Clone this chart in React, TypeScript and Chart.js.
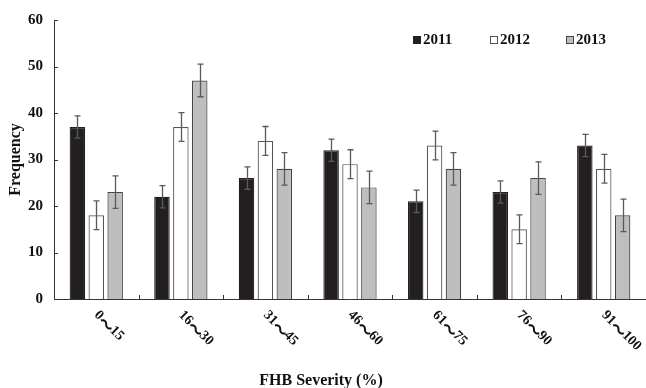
import React, { useEffect, useRef } from "react";
import { Chart, registerables } from "chart.js";

Chart.register(...registerables);

const categories = ["0～15", "16～30", "31～45", "46～60", "61～75", "76～90", "91～100"];
const seriesNames = ["2011", "2012", "2013"];
const values2011 = [37, 22, 26, 32, 21, 23, 33];
const values2012 = [18, 37, 34, 29, 33, 15, 28];
const values2013 = [23, 47, 28, 24, 28, 26, 18];
const errors2011 = [2.4, 2.4, 2.4, 2.4, 2.4, 2.4, 2.4];
const errors2012 = [3.1, 3.1, 3.1, 3.1, 3.1, 3.1, 3.1];
const errors2013 = [3.5, 3.5, 3.5, 3.5, 3.5, 3.5, 3.5];
const yTicks = [0, 10, 20, 30, 40, 50, 60];

const FONT = '"Liberation Serif", "Times New Roman", "DejaVu Serif", serif';
const CJK = '"Noto Sans CJK SC", "Noto Sans CJK JP", sans-serif';
const fills = ["#231f20", "#ffffff", "#bcbec0"];
const edges = ["#231f20", "#555555", "#444444"];

function drawMixed(ctx: any, text: string) {
  // numbers in serif, full-width tilde in CJK font
  const parts = text.split(/(～)/);
  let cx = 0;
  parts.forEach((p) => {
    if (!p) return;
    ctx.font = p === "～" ? "bold 16px " + CJK : "bold 14px " + FONT;
    ctx.fillText(p, cx, p === "～" ? 1 : 0);
    cx += ctx.measureText(p).width - (p === "～" ? 1 : 0);
  });
}

const extrasPlugin = {
  id: "extras",
  afterDatasetsDraw(chart: any) {
    const ctx = chart.ctx;
    const x = chart.scales.x;
    const y = chart.scales.y;
    const area = chart.chartArea;
    const errs = [errors2011, errors2012, errors2013];
    ctx.save();
    // error bars
    ctx.strokeStyle = "#5a5a5a";
    ctx.lineWidth = 1.3;
    chart.data.datasets.forEach((ds: any, i: number) => {
      const meta = chart.getDatasetMeta(i);
      meta.data.forEach((bar: any, j: number) => {
        const v = ds.data[j];
        const e = errs[i][j];
        const top = y.getPixelForValue(v + e);
        const bot = y.getPixelForValue(v - e);
        const cx = Math.round(bar.x) + 0.5;
        ctx.beginPath();
        ctx.moveTo(cx, top);
        ctx.lineTo(cx, bot);
        ctx.moveTo(cx - 3, top);
        ctx.lineTo(cx + 3, top);
        ctx.moveTo(cx - 3, bot);
        ctx.lineTo(cx + 3, bot);
        ctx.stroke();
      });
    });
    // axes ticks (inward)
    ctx.strokeStyle = "#333333";
    ctx.lineWidth = 1;
    yTicks.forEach((t) => {
      const py = Math.round(y.getPixelForValue(t)) + 0.5;
      ctx.beginPath();
      ctx.moveTo(area.left, py);
      ctx.lineTo(area.left + 4, py);
      ctx.stroke();
    });
    for (let i = 1; i < categories.length; i++) {
      const px = Math.round((x.getPixelForValue(i - 1) + x.getPixelForValue(i)) / 2) + 0.5;
      ctx.beginPath();
      ctx.moveTo(px, area.bottom);
      ctx.lineTo(px, area.bottom - 4);
      ctx.stroke();
    }
    // x tick labels, rotated clockwise
    ctx.fillStyle = "#111111";
    categories.forEach((c, i) => {
      const px = x.getPixelForValue(i);
      ctx.save();
      ctx.translate(px, area.bottom + 14);
      ctx.rotate(Math.PI / 4);
      ctx.textAlign = "left";
      ctx.textBaseline = "middle";
      drawMixed(ctx, c);
      ctx.restore();
    });
    // axis titles
    ctx.font = "bold 16px " + FONT;
    ctx.textAlign = "center";
    ctx.textBaseline = "middle";
    ctx.fillText("FHB Severity (%)", 321, 381);
    ctx.save();
    ctx.translate(15.5, (area.top + area.bottom) / 2);
    ctx.rotate(-Math.PI / 2);
    ctx.fillText("Frequency", 0, 0);
    ctx.restore();
    // legend
    const legendX = [413, 490, 566];
    ctx.font = "bold 15px " + FONT;
    ctx.textAlign = "left";
    seriesNames.forEach((name, i) => {
      const bx = legendX[i];
      ctx.fillStyle = fills[i];
      ctx.fillRect(bx, 36.5, 7, 7);
      ctx.strokeStyle = edges[i];
      ctx.lineWidth = 1;
      ctx.strokeRect(bx + 0.5, 36.5, 7, 7);
      ctx.fillStyle = "#111111";
      ctx.fillText(name, bx + 10, 40.5);
    });
    ctx.restore();
  },
};

export default function App() {
  const ref = useRef<HTMLCanvasElement | null>(null);
  useEffect(() => {
    if (!ref.current) return;
    const chart = new Chart(ref.current, {
      type: "bar",
      data: {
        labels: categories,
        datasets: [values2011, values2012, values2013].map((d, i) => ({
          label: seriesNames[i],
          data: d,
          backgroundColor: fills[i],
          borderColor: edges[i],
          borderWidth: 1.2,
          categoryPercentage: 0.67,
          barPercentage: 0.82,
        })),
      },
      options: {
        animation: false,
        responsive: false,
        maintainAspectRatio: false,
        devicePixelRatio: 1,
        layout: { padding: { left: 0, right: -3, top: 19, bottom: 81 } },
        plugins: { legend: { display: false }, tooltip: { enabled: false } },
        scales: {
          x: {
            grid: { display: false },
            border: { color: "#333333", width: 1 },
            ticks: { display: false },
          },
          y: {
            min: 0,
            max: 60,
            afterFit: (s: any) => {
              s.width = 54;
            },
            afterBuildTicks: (s: any) => {
              s.ticks = yTicks.map((v) => ({ value: v }));
            },
            grid: { display: false, drawTicks: false },
            border: { color: "#333333", width: 1 },
            ticks: {
              padding: 11,
              color: "#111111",
              font: { family: FONT, size: 15, weight: "bold" },
            },
          },
        },
      },
      plugins: [extrasPlugin],
    });
    return () => chart.destroy();
  }, []);
  return (
    <div style={{ position: "fixed", left: 0, top: 0, width: 646, height: 388, background: "#fff" }}>
      <canvas ref={ref} width={646} height={388} style={{ width: 646, height: 388 }} />
    </div>
  );
}
